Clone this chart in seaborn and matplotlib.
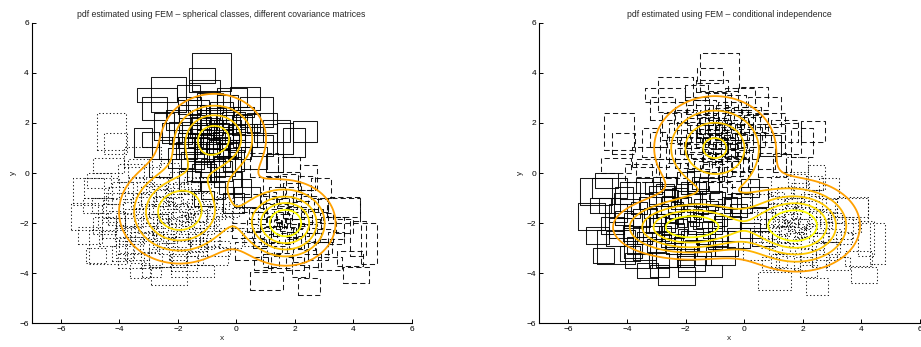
import numpy as np
import pandas as pd
import matplotlib
matplotlib.use("Agg")
import matplotlib.pyplot as plt
import seaborn as sns

# ---------------- interval data (centre x, centre y, width, height) ----------------
# group A : upper class in the left panel
A_x = [-0.84, -2.33, -2.70, -2.79, -1.17, -1.09, 0.31, 0.70, 1.38, 2.36, 1.98, -3.19, -2.93, -2.48,
       -1.62, -0.15, 0.25, 0.87, 1.67, -0.31, 0.36, -1.5, -0.5, -1.9, -1.2, -0.3, 0.3, -0.9, -1.4,
       -0.6, 0.1, -1.9, -1.0, -0.4, 0.6, -2.3, -1.6, -0.9, -0.1, -0.7, -1.1, -0.5, -0.8, -1.3, -0.2,
       -1.6, 0.9, 1.3, -2.6, -1.2, -0.3, 0.0, -1.7, -0.8, -0.1, 0.2, -1.1] + \
      [-1.3, -0.9, -0.4, -1.6, -0.6, -1.0, -0.2, -1.4, -0.7, -1.1, -0.3, -0.9, -1.8, 0.2, -0.5,
       -1.2, -0.8, -0.1, -1.5, -0.6, -1.0, 0.4, -2.0, -1.3, -0.4, -0.8, -1.7, 0.0, -1.1, -0.5,
       1.0, -2.2, -0.9, -0.3, -1.4]
A_y = [4.03, 3.15, 3.10, 2.57, 3.88, 3.48, 2.98, 2.45, 1.68, 1.67, 1.22, 1.22, 1.35, 1.85,
       3.21, 3.02, 2.45, 1.98, 1.38, 0.05, -0.94, 2.3, 2.4, 1.6, 1.9, 1.7, 1.5, 1.3, 1.0,
       0.9, 0.9, 0.6, 0.4, 0.3, 0.6, 1.0, 2.7, 2.8, 2.1, 1.8, 1.5, 1.2, 1.6, 0.1, -0.4,
       -0.3, 1.1, 0.4, 0.2, 2.2, 2.8, 1.2, 1.3, -0.7, -1.2, -0.6, -1.0] + \
      [1.7, 1.1, 1.5, 1.9, 0.6, 2.1, 1.3, 1.5, 2.3, 0.8, 0.9, 1.9, 1.1, 1.9, 1.7,
       1.2, 0.2, 0.5, 0.5, 1.4, 1.7, 2.0, 2.1, 2.6, 2.0, 1.0, 0.9, 1.6, 0.0, 0.1,
       1.6, 1.6, 2.4, 1.0, 1.3]
A_w = [1.34, 1.19, 1.37, 0.86, 0.91, 1.08, 1.02, 1.13, 0.91, 0.82, 0.74, 0.62, 0.57, 0.68,
       0.79, 1.02, 0.68, 1.03, 0.56, 0.91, 0.91, 0.9, 0.8, 0.8, 0.7, 0.9, 0.8, 0.6, 0.8,
       0.7, 0.8, 0.9, 0.8, 0.7, 0.9, 0.7, 0.8, 0.9, 0.8, 0.5, 0.5, 0.6, 0.4, 0.8, 0.8,
       0.7, 0.7, 0.6, 0.8, 0.6, 0.7, 0.6, 0.6, 0.8, 0.7, 0.6, 0.7] + \
      [0.6, 0.7, 0.6, 0.7, 0.8, 0.7, 0.6, 0.5, 0.7, 0.6, 0.7, 0.6, 0.8, 0.7, 0.5,
       0.5, 0.8, 0.7, 0.8, 0.4, 0.5, 0.8, 0.8, 0.7, 0.6, 0.5, 0.7, 0.6, 0.8, 0.7,
       0.8, 0.7, 0.7, 0.6, 0.5]
A_h = [1.49, 1.39, 0.56, 0.89, 0.60, 0.46, 0.94, 1.20, 0.87, 0.84, 1.13, 1.13, 0.60, 1.06,
       0.60, 0.73, 0.40, 0.80, 1.20, 1.20, 0.79, 0.8, 0.9, 0.9, 0.7, 0.8, 0.9, 0.6, 0.8,
       0.8, 0.7, 0.8, 0.7, 0.8, 0.9, 0.9, 0.7, 0.8, 0.7, 0.6, 0.5, 0.5, 0.5, 0.8, 0.9,
       0.8, 0.8, 0.7, 0.7, 0.6, 0.6, 0.7, 0.6, 0.7, 0.8, 0.7, 0.6] + \
      [0.6, 0.6, 0.7, 0.6, 0.7, 0.8, 0.6, 0.5, 0.6, 0.7, 0.6, 0.6, 0.7, 0.8, 0.6,
       0.5, 0.7, 0.8, 0.7, 0.5, 0.4, 0.7, 0.8, 0.6, 0.6, 0.5, 0.7, 0.6, 0.7, 0.8,
       0.7, 0.8, 0.6, 0.6, 0.5]
A_right = "tttttttttttttttttttt" + "l" + "tttttttttttttttttttttttt" + "ll" + "ttttttt" + "llll" + "t" * 35

# group B : left class in the left panel
B_x = [-4.27, -4.12, -4.37, -3.20, -3.60, -5.06, -5.20, -4.38, -3.40, -2.30, -1.50, -4.60, -4.00,
       -4.50, -3.60, -0.80, -0.20, 0.30, -2.80, -2.0, -2.3, -1.7, -2.5, -1.5, -2.2, -1.2, -2.8,
       -1.9, -2.6, -1.4, -3.1, -3.3, -0.9, -1.6, -2.7, -3.5, -3.0, -2.0, -1.0, -0.7, -2.4, -1.8,
       -2.1, -1.6, -2.6, -3.8, -3.9, -1.2, -2.3, -2.9, -1.3, -0.4, 0.6, -3.3, -3.2, -2.4, -1.5,
       -0.9, -2.0, -2.8, -1.2, -3.6, -0.6, -1.8, -2.6, -4.2, -1.9, -2.5, -0.4] + \
      [-2.2, -1.8, -2.5, -1.4, -2.9, -1.1, -2.0, -2.7, -1.6, -2.3, -3.2, -1.9, -0.8, -2.5, -1.3,
       -3.0, -2.1, -1.7, -3.6, -2.4, -1.0, -2.8, -1.5, -3.4, -0.5, -2.0, -4.1, -1.2, -2.6, -3.1,
       -1.8, -2.2, -0.2, -3.8, -2.9, -1.4, -4.6, -2.0, -3.3, -1.6] + \
      [-4.9, -4.3, -3.8, -5.0, -4.4, -3.9, -4.7, -4.1, -3.4, -4.8]
B_y = [1.65, 1.18, 0.29, 0.65, 0.00, -0.75, -1.75, -2.95, -3.00, -4.10, -3.90, -0.60, -1.30,
       -2.10, -3.50, -3.30, -2.60, -1.80, -0.90, -1.6, -1.3, -1.9, -2.0, -1.2, -0.8, -1.7, -1.5,
       -2.5, -2.7, -2.6, -2.1, -1.2, -1.0, -0.6, -0.7, -1.8, -2.9, -3.2, -2.2, -1.6, -1.7, -1.4,
       -2.0, -1.6, -1.1, -2.4, -0.7, -0.5, 0.1, -3.5, -3.0, -2.0, -2.6, 0.2, -2.4, -2.3, -2.2,
       -2.6, -2.8, -2.0, -1.9, -2.9, -3.0, -3.6, -3.4, -2.2, -1.0, -1.3, -1.3] + \
      [-1.4, -1.8, -1.8, -1.5, -1.8, -1.3, -1.1, -2.3, -2.1, -2.6, -1.6, -0.6, -1.9, -0.9, -2.9,
       -1.0, -2.4, -1.0, -1.4, -3.0, -2.8, -2.5, -0.4, -2.6, -1.2, -3.5, -1.8, -2.4, -0.4, -0.6,
       -2.9, -1.9, -1.5, -3.1, -3.9, -3.4, -1.3, -0.2, -3.9, -1.7] + \
      [-1.3, -1.6, -1.9, -2.5, -2.6, -3.2, -0.3, -0.9, -0.5, -3.3]
B_w = [0.99, 0.79, 1.05, 1.25, 0.90, 1.08, 0.91, 1.30, 0.80, 1.25, 1.50, 1.20, 0.90,
       0.80, 0.90, 1.00, 0.80, 0.90, 0.90, 0.3, 0.4, 0.3, 0.4, 0.4, 0.5, 0.4, 0.4,
       0.5, 0.5, 0.5, 0.5, 0.6, 0.5, 0.6, 0.6, 0.6, 0.6, 0.6, 0.5, 0.6, 0.3, 0.3,
       0.3, 0.3, 0.4, 0.7, 0.7, 0.7, 0.7, 0.7, 0.6, 0.6, 0.7, 0.8, 0.8, 0.7, 0.8,
       0.7, 0.8, 0.9, 0.9, 0.8, 0.8, 0.9, 0.8, 0.8, 0.8, 0.7, 0.6] + \
      [0.3, 0.3, 0.3, 0.35, 0.4, 0.4, 0.35, 0.4, 0.3, 0.4, 0.45, 0.5, 0.45, 0.5, 0.5,
       0.5, 0.3, 0.4, 0.55, 0.5, 0.5, 0.45, 0.55, 0.5, 0.5, 0.55, 0.6, 0.4, 0.55, 0.6,
       0.45, 0.25, 0.6, 0.6, 0.65, 0.55, 0.7, 0.6, 0.7, 0.25] + \
      [0.7, 0.6, 0.6, 0.8, 0.6, 0.7, 0.8, 0.6, 0.6, 0.7]
B_h = [1.46, 0.80, 0.60, 0.80, 0.70, 1.07, 1.07, 1.33, 0.90, 0.73, 0.50, 0.80, 1.00,
       0.70, 0.60, 0.70, 0.80, 0.80, 0.80, 0.3, 0.3, 0.4, 0.4, 0.3, 0.4, 0.4, 0.5,
       0.4, 0.5, 0.5, 0.6, 0.5, 0.5, 0.5, 0.5, 0.7, 0.5, 0.5, 0.5, 0.5, 0.3, 0.3,
       0.3, 0.3, 0.4, 0.6, 0.7, 0.6, 0.6, 0.6, 0.6, 0.6, 0.6, 0.7, 0.6, 0.6, 0.5,
       0.6, 0.5, 0.7, 0.6, 0.7, 0.6, 0.6, 0.7, 0.8, 0.6, 0.7, 0.6] + \
      [0.3, 0.25, 0.3, 0.3, 0.35, 0.35, 0.3, 0.35, 0.3, 0.35, 0.4, 0.45, 0.4, 0.45, 0.45,
       0.5, 0.3, 0.4, 0.5, 0.45, 0.45, 0.4, 0.5, 0.5, 0.45, 0.5, 0.55, 0.4, 0.5, 0.5,
       0.45, 0.25, 0.5, 0.55, 0.5, 0.5, 0.6, 0.5, 0.6, 0.25] + \
      [0.6, 0.7, 0.6, 0.7, 0.6, 0.6, 0.6, 0.7, 0.6, 0.6]
B_right = "ttttt" + "l" * 43 + "t" + "l" * 4 + "t" + "l" * 15 + "l" * 40 + "l" * 10

# group C : lower-right class in the left panel
C_x = [1.03, 2.49, 4.10, 4.54, 3.69, 1.81, 2.47, 0.96, 3.66, 4.17, 3.9, 3.2, 0.4, 0.2, 0.6,
       1.3, 2.9, 3.3, 2.8, 1.5, 0.9, 2.5, 1.7, 1.5, 1.9, 1.4, 2.1, 1.8, 1.2, 2.3, 1.6, 2.0,
       1.1, 2.4, 1.0, 2.6, 1.7, 2.2, 0.8, 2.7, 1.3, 2.2, 0.6, 3.0, 1.9, 1.6, 1.8, 2.0, 1.3, 1.9] + \
      [1.5, 2.1, 1.2, 2.4, 1.8, 1.4, 2.2, 1.6, 2.8, 1.0, 2.5, 1.9, 1.3, 2.0, 1.7,
       3.1, 0.8, 2.3, 1.5, 2.6, 1.1, 3.4, 2.0, 1.4, 2.9, 0.7, 2.2, 3.7, 1.8, 1.2,
       2.6, 3.0, 1.6, 2.4, 0.9]
C_y = [-4.30, -4.52, -4.06, -2.81, -1.48, 0.35, -0.18, 0.32, -1.38, -2.60, -3.4, -3.6, -3.1,
       -2.3, -1.2, -0.5, -0.6, -2.2, -3.1, -3.5, -2.6, -1.2, -2.0, -1.8, -2.2, -2.3, -1.7,
       -1.5, -1.9, -2.3, -2.6, -2.8, -1.4, -1.9, -2.4, -2.6, -1.1, -1.1, -1.8, -1.7, -3.0,
       -3.3, -2.1, -2.5, -0.7, -2.2, -1.9, -2.0, -2.0, -2.5] + \
      [-2.1, -2.4, -1.6, -1.6, -2.7, -2.0, -2.1, -1.4, -2.0, -2.0, -2.9, -1.3, -2.6, -2.3, -1.7,
       -1.8, -2.8, -0.9, -3.1, -2.2, -1.0, -2.6, -3.6, -0.8, -1.3, -1.6, -3.9, -2.1, -0.3, -3.5,
       -3.5, -3.0, -1.2, -0.4, -3.6]
C_w = [1.11, 0.74, 0.89, 0.52, 1.08, 0.74, 0.57, 0.96, 1.14, 0.55, 0.9, 0.8, 0.9, 0.7, 0.8,
       0.8, 0.7, 0.8, 0.7, 0.8, 0.6, 0.6, 0.3, 0.3, 0.3, 0.3, 0.4, 0.3, 0.4, 0.4, 0.4, 0.4,
       0.4, 0.4, 0.4, 0.5, 0.5, 0.5, 0.5, 0.5, 0.5, 0.5, 0.5, 0.6, 0.6, 0.2, 0.2, 0.3, 0.3, 0.3] + \
      [0.25, 0.3, 0.3, 0.35, 0.3, 0.25, 0.2, 0.35, 0.4, 0.35, 0.4, 0.35, 0.35, 0.25, 0.2,
       0.45, 0.45, 0.5, 0.45, 0.35, 0.5, 0.55, 0.6, 0.55, 0.5, 0.5, 0.6, 0.6, 0.6, 0.55,
       0.6, 0.55, 0.4, 0.6, 0.6]
C_h = [0.73, 0.70, 0.64, 1.60, 1.06, 0.60, 1.00, 0.93, 0.73, 1.40, 0.6, 0.5, 0.7, 0.6, 0.7,
       0.8, 0.8, 0.9, 0.7, 0.6, 0.6, 0.6, 0.3, 0.3, 0.3, 0.4, 0.3, 0.3, 0.4, 0.4, 0.4, 0.4,
       0.4, 0.3, 0.5, 0.4, 0.4, 0.5, 0.5, 0.5, 0.5, 0.5, 0.5, 0.5, 0.6, 0.2, 0.2, 0.3, 0.3, 0.3] + \
      [0.25, 0.3, 0.3, 0.3, 0.3, 0.25, 0.2, 0.3, 0.35, 0.35, 0.35, 0.3, 0.35, 0.25, 0.2,
       0.4, 0.4, 0.45, 0.4, 0.35, 0.45, 0.5, 0.5, 0.5, 0.5, 0.45, 0.5, 0.55, 0.5, 0.5,
       0.5, 0.5, 0.4, 0.55, 0.5]
C_right = "rrrrrrrtrrrrrlrrrrrrrrrrrrrrrrrrrrrrrrrrrrrrrrrrrr" + "r" * 35

# ---------------- estimated mixture densities ----------------
# left: spherical classes, different covariance matrices
left_means = [(-0.75, 1.40), (-1.95, -1.55), (1.70, -2.00)]
left_sd = [(1.02, 1.02), (1.16, 1.16), (0.90, 0.90)]
left_weights = [0.29, 0.41, 0.30]
left_levels = [0.010, 0.020, 0.030, 0.040, 0.050]
# right: conditional independence (diagonal covariances)
right_means = [(-1.00, 1.00), (-1.88, -2.17), (1.80, -2.10)]
right_sd = [(1.22, 1.22), (1.38, 0.68), (1.14, 0.97)]
right_weights = [0.343, 0.299, 0.358]
right_levels = [0.0087, 0.0174, 0.0261, 0.0348, 0.0435]

level_colors = ["#FFA000", "#FFB300", "#FFC800", "#FFE000", "#FFFF00"]

titles = ["pdf estimated using FEM – spherical classes, different covariance matrices",
          "pdf estimated using FEM – conditional independence"]

# ---------------- build tables ----------------
def rect_table(xs, ys, ws, hs, cls_left, cls_right, start):
    rows = []
    for i, (x, y, w, h, cl, cr) in enumerate(zip(xs, ys, ws, hs, cls_left, cls_right)):
        corners = [(x - w / 2, y - h / 2), (x + w / 2, y - h / 2), (x + w / 2, y + h / 2),
                   (x - w / 2, y + h / 2), (x - w / 2, y - h / 2)]
        for k, (cx, cy) in enumerate(corners):
            rows.append(dict(item=start + i, vertex=k, x=cx, y=cy, left=cl, right=cr))
    return pd.DataFrame(rows)

dfA = rect_table(A_x, A_y, A_w, A_h, "A" * len(A_x), A_right, 0)
dfB = rect_table(B_x, B_y, B_w, B_h, "B" * len(B_x), B_right, 1000)
dfC = rect_table(C_x, C_y, C_w, C_h, "C" * len(C_x), C_right, 2000)
df = pd.concat([dfA, dfB, dfC], ignore_index=True)

left_style = {"A": "solid", "B": "dotted", "C": "dashed"}
right_style = {"t": "dashed", "l": "solid", "r": "dotted"}
df["ls_left"] = df["left"].map(left_style)
df["ls_right"] = df["right"].map(right_style)
dash_map = {"solid": "", "dashed": (5, 3), "dotted": (1.2, 2.2)}

def mixture(X, Y, means, sds, weights):
    Z = np.zeros_like(X)
    for (mx, my), (sx, sy), w in zip(means, sds, weights):
        Z += w / (2 * np.pi * sx * sy) * np.exp(-0.5 * (((X - mx) / sx) ** 2 + ((Y - my) / sy) ** 2))
    return Z

gx = np.linspace(-7, 6, 400)
gy = np.linspace(-6, 6, 400)
GX, GY = np.meshgrid(gx, gy)

# ---------------- figure ----------------
sns.set_style("ticks")
plt.rcParams["font.family"] = ["Liberation Sans", "DejaVu Sans"]

fig = plt.figure(figsize=(9.21, 3.47), dpi=100)
ax1 = fig.add_axes([0.0344, 0.068, 0.4126, 0.8666])
ax2 = fig.add_axes([0.5852, 0.068, 0.4138, 0.8666])

panels = [(ax1, "ls_left", left_means, left_sd, left_weights, left_levels, titles[0]),
          (ax2, "ls_right", right_means, right_sd, right_weights, right_levels, titles[1])]

for ax, col, means, sds, weights, levels, title in panels:
    sns.lineplot(data=df, x="x", y="y", units="item", estimator=None, sort=False,
                 style=col, style_order=["solid", "dashed", "dotted"], dashes=dash_map,
                 color="black", linewidth=0.75, alpha=0.9, legend=False, ax=ax)
    Z = mixture(GX, GY, means, sds, weights)
    ax.contour(GX, GY, Z, levels=levels, colors=level_colors, linewidths=1.3)
    ax.set_xlim(-7, 6)
    ax.set_ylim(-6, 6)
    ax.set_xticks(np.arange(-6, 7, 2))
    ax.set_yticks(np.arange(-6, 7, 2))
    ax.tick_params(direction="in", length=3, width=0.7, labelsize=6, pad=2, colors="black")
    for s in ["top", "right"]:
        ax.spines[s].set_visible(False)
    for s in ["left", "bottom"]:
        ax.spines[s].set_linewidth(0.8)
        ax.spines[s].set_color("black")
    ax.set_xlabel("x", fontsize=6, labelpad=1)
    ax.set_ylabel("y", fontsize=6, labelpad=2)
    ax.set_title(title, fontsize=6.2, pad=4)

fig.savefig("out.png", dpi=100)
